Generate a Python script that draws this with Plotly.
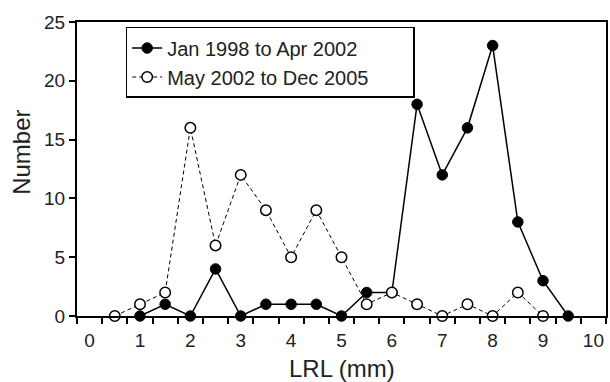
import plotly.graph_objects as go

# Data
lrl_a = [1, 1.5, 2, 2.5, 3, 3.5, 4, 4.5, 5, 5.5, 6, 6.5, 7, 7.5, 8, 8.5, 9, 9.5]
num_a = [0, 1, 0, 4, 0, 1, 1, 1, 0, 2, 2, 18, 12, 16, 23, 8, 3, 0]
lrl_b = [0.5, 1, 1.5, 2, 2.5, 3, 3.5, 4, 4.5, 5, 5.5, 6, 6.5, 7, 7.5, 8, 8.5, 9]
num_b = [0, 1, 2, 16, 6, 12, 9, 5, 9, 5, 1, 2, 1, 0, 1, 0, 2, 0]
name_a = "Jan 1998 to Apr 2002"
name_b = "May 2002 to Dec 2005"
x_ticks = list(range(0, 11))
y_ticks = [0, 5, 10, 15, 20, 25]

FONT = "Liberation Sans, Arial, sans-serif"
PAD = "\u00a0" * 7

fig = go.Figure()
fig.add_trace(go.Scatter(
    x=lrl_a, y=num_a, name=name_a + PAD, mode="lines+markers",
    line=dict(color="black", width=1.5),
    marker=dict(symbol="circle", size=10.5, color="black", line=dict(color="black", width=1)),
    cliponaxis=False,
))
fig.add_trace(go.Scatter(
    x=lrl_b, y=num_b, name=name_b + PAD, mode="lines+markers",
    line=dict(color="black", width=1, dash="4px,3px"),
    marker=dict(symbol="circle", size=10.5, color="white", line=dict(color="black", width=1.5)),
    cliponaxis=False,
))

fig.update_layout(
    width=610, height=382,
    margin=dict(l=77, r=2, t=22, b=66),
    paper_bgcolor="white", plot_bgcolor="white",
    font=dict(family=FONT, color="#222", size=19),
    showlegend=True,
    legend=dict(
        x=0.092, y=0.983, xanchor="left", yanchor="top",
        bgcolor="white", bordercolor="black", borderwidth=1.5,
        font=dict(size=20, family=FONT, color="#222"),
        tracegroupgap=0,
    ),
    xaxis=dict(
        range=[-0.25, 10.25], tickvals=x_ticks, ticktext=[str(v) for v in x_ticks],
        ticks="", showline=True, linecolor="black", linewidth=2, mirror=True,
        showgrid=False, zeroline=False,
        tickfont=dict(size=19, family=FONT, color="#222"),
        minor=dict(ticks="outside", ticklen=6, tickwidth=1.5, tickcolor="black",
                   tick0=-0.25, dtick=0.5, showgrid=False),
        ticklabelstandoff=6,
    ),
    yaxis=dict(
        range=[0, 25], tickvals=y_ticks, ticks="outside", ticklen=6, tickwidth=1.5,
        tickcolor="black", showline=True, linecolor="black", linewidth=2, mirror=True,
        showgrid=False, zeroline=False,
        tickfont=dict(size=19, family=FONT, color="#222"),
    ),
    annotations=[
        dict(text="LRL (mm)", x=0.5, y=-0.0, xref="paper", yref="paper",
             xanchor="center", yanchor="top", yshift=-37, showarrow=False,
             font=dict(size=24, family=FONT, color="#222")),
        dict(text="Number", x=0, y=0.555, xref="paper", yref="paper",
             xanchor="center", yanchor="middle", xshift=-55, textangle=-90,
             showarrow=False, font=dict(size=24, family=FONT, color="#222")),
    ],
)

fig.write_html("out.html")
